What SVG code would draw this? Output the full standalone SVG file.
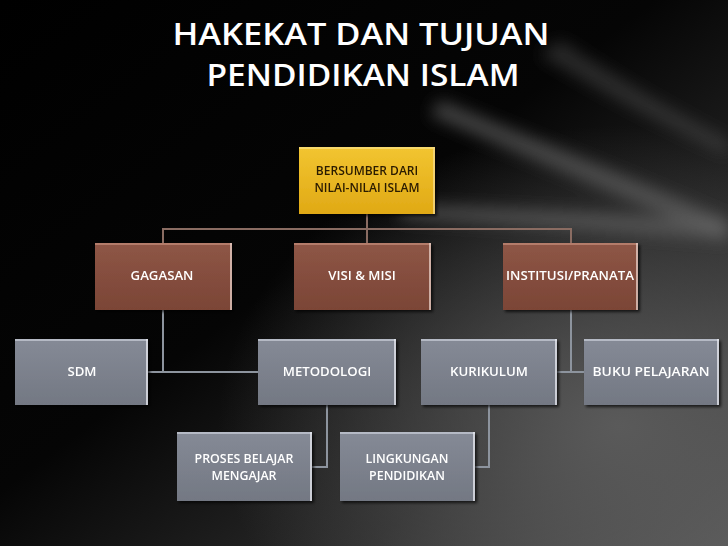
<svg xmlns="http://www.w3.org/2000/svg" width="728" height="546" viewBox="0 0 728 546">
<defs>
<linearGradient id="bg" x1="0" y1="0" x2="1" y2="1">
<stop offset="0" stop-color="#000"/>
<stop offset="0.45" stop-color="#050505"/>
<stop offset="0.75" stop-color="#2a2a2a"/>
<stop offset="1" stop-color="#5a5a5a"/>
</linearGradient>
<radialGradient id="glow" cx="0.85" cy="0.78" r="0.55">
<stop offset="0" stop-color="#5e5e5e" stop-opacity="0.9"/>
<stop offset="1" stop-color="#5e5e5e" stop-opacity="0"/>
</radialGradient>
<filter id="blur" x="-20%" y="-50%" width="140%" height="200%"><feGaussianBlur stdDeviation="8"/></filter>
<filter id="sh" x="-10%" y="-10%" width="130%" height="130%"><feDropShadow dx="2" dy="2" stdDeviation="1.5" flood-color="#000" flood-opacity="0.7"/></filter>
<linearGradient id="gy" x1="0" y1="0" x2="0" y2="1">
<stop offset="0" stop-color="#f2c531"/>
<stop offset="1" stop-color="#e0a915"/>
</linearGradient>
<linearGradient id="gb" x1="0" y1="0" x2="0" y2="1">
<stop offset="0" stop-color="#8e5646"/>
<stop offset="1" stop-color="#7b4536"/>
</linearGradient>
<linearGradient id="gg" x1="0" y1="0" x2="0" y2="1">
<stop offset="0" stop-color="#858a96"/>
<stop offset="1" stop-color="#737883"/>
</linearGradient>
</defs>
<style>
.t{font-family:"Open Sans","Liberation Sans",sans-serif;font-weight:600;fill:#fff;text-anchor:middle}
.n{font-family:"Open Sans","Liberation Sans",sans-serif;font-weight:600;font-size:13.2px;text-anchor:middle;fill:#fff}
.n2{font-size:12.4px}
.ny{fill:#2a1a00;font-size:12px}
.c{fill:none;stroke:#8d949e;stroke-width:2}
.ct{fill:none;stroke:#8a6c62;stroke-width:2}
.hl{fill:none;stroke-width:1.5}
</style>
<rect width="728" height="546" fill="url(#bg)"/>
<rect width="728" height="546" fill="url(#glow)"/>
<g filter="url(#blur)" fill="#6a6a6a">
<path d="M560 40 Q650 100 728 140 L728 155 Q640 115 540 55 Z" opacity="0.35"/>
<path d="M440 100 Q600 165 728 220 L728 240 Q590 185 430 115 Z" opacity="0.6"/>
<path d="M400 205 Q600 212 728 222 L728 240 Q600 230 400 218 Z" opacity="0.6"/>
</g>
<g id="title">
<text class="t" x="361" y="45" font-size="30" textLength="377" lengthAdjust="spacingAndGlyphs">HAKEKAT DAN TUJUAN</text>
<text class="t" x="363" y="86" font-size="30" textLength="313" lengthAdjust="spacingAndGlyphs">PENDIDIKAN ISLAM</text>
</g>
<g id="connectors">
<path class="ct" d="M367 214 V229 M163 243 V229 H571 V243 M367 229 V243"/>
<path class="c" d="M163 310 V372 M148 372 H258"/>
<path class="c" d="M571 310 V372 M557 372 H584"/>
<path class="c" d="M327 405 V467 H312"/>
<path class="c" d="M489 405 V467 H475"/>
</g>
<g id="n-bersumber" filter="url(#sh)">
<rect x="299" y="147" width="136" height="67" fill="url(#gy)"/>
<path class="hl" d="M299 148 H435" stroke="#f8df80"/>
<path class="hl" d="M434 147 V214" stroke="#f5d98a"/>
<text class="n ny" x="367" y="175">BERSUMBER DARI</text>
<text class="n ny" x="367" y="192">NILAI-NILAI ISLAM</text>
</g>
<g id="n-gagasan" filter="url(#sh)">
<rect x="95" y="243" width="137" height="67" fill="url(#gb)"/>
<path class="hl" d="M95 244 H232" stroke="#c08878"/>
<path class="hl" d="M231 243 V310" stroke="#e8d0c8"/>
<text class="n" x="162" y="280">GAGASAN</text>
</g>
<g id="n-visi" filter="url(#sh)">
<rect x="294" y="243" width="137" height="67" fill="url(#gb)"/>
<path class="hl" d="M294 244 H431" stroke="#c08878"/>
<path class="hl" d="M430 243 V310" stroke="#e8d0c8"/>
<text class="n" x="362" y="280">VISI &amp; MISI</text>
</g>
<g id="n-institusi" filter="url(#sh)">
<rect x="503" y="243" width="135" height="67" fill="url(#gb)"/>
<path class="hl" d="M503 244 H638" stroke="#c08878"/>
<path class="hl" d="M637 243 V310" stroke="#e8d0c8"/>
<text class="n" x="570" y="280" textLength="128" lengthAdjust="spacingAndGlyphs">INSTITUSI/PRANATA</text>
</g>
<g id="n-sdm" filter="url(#sh)">
<rect x="15" y="339" width="133" height="66" fill="url(#gg)"/>
<path class="hl" d="M15 340 H148" stroke="#c6cad4"/>
<path class="hl" d="M147 339 V405" stroke="#e8eaf0"/>
<text class="n" x="82" y="376">SDM</text>
</g>
<g id="n-metodologi" filter="url(#sh)">
<rect x="258" y="339" width="138" height="66" fill="url(#gg)"/>
<path class="hl" d="M258 340 H396" stroke="#c6cad4"/>
<path class="hl" d="M395 339 V405" stroke="#e8eaf0"/>
<text class="n" x="327" y="376">METODOLOGI</text>
</g>
<g id="n-kurikulum" filter="url(#sh)">
<rect x="421" y="339" width="136" height="66" fill="url(#gg)"/>
<path class="hl" d="M421 340 H557" stroke="#c6cad4"/>
<path class="hl" d="M556 339 V405" stroke="#e8eaf0"/>
<text class="n" x="489" y="376">KURIKULUM</text>
</g>
<g id="n-buku" filter="url(#sh)">
<rect x="584" y="339" width="135" height="66" fill="url(#gg)"/>
<path class="hl" d="M584 340 H719" stroke="#c6cad4"/>
<path class="hl" d="M718 339 V405" stroke="#e8eaf0"/>
<text class="n" x="651" y="376" textLength="117" lengthAdjust="spacingAndGlyphs">BUKU PELAJARAN</text>
</g>
<g id="n-proses" filter="url(#sh)">
<rect x="177" y="432" width="135" height="69" fill="url(#gg)"/>
<path class="hl" d="M177 433 H312" stroke="#c6cad4"/>
<path class="hl" d="M311 432 V501" stroke="#e8eaf0"/>
<text class="n n2" x="244" y="463">PROSES BELAJAR</text>
<text class="n n2" x="244" y="480">MENGAJAR</text>
</g>
<g id="n-lingkungan" filter="url(#sh)">
<rect x="340" y="432" width="135" height="69" fill="url(#gg)"/>
<path class="hl" d="M340 433 H475" stroke="#c6cad4"/>
<path class="hl" d="M474 432 V501" stroke="#e8eaf0"/>
<text class="n n2" x="407" y="463">LINGKUNGAN</text>
<text class="n n2" x="407" y="480">PENDIDIKAN</text>
</g>
</svg>
